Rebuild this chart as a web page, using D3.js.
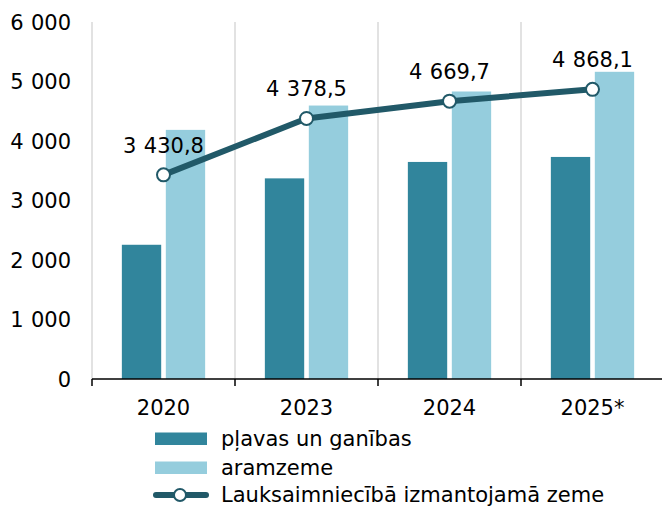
<!DOCTYPE html>
<html><head><meta charset="utf-8">
<script src="https://cdn.jsdelivr.net/npm/d3@7"></script>
<style>
html,body{margin:0;padding:0;background:#fff;}
svg{display:block;font-family:"DejaVu Sans",Verdana,sans-serif;}
.num{word-spacing:0.7px;}
</style></head>
<body>
<script>
const categories = ["2020", "2023", "2024", "2025*"];
const seriesNames = ["pļavas un ganības", "aramzeme"];
const meadows = [2256, 3372, 3648, 3732];
const arable = [4187, 4596, 4832, 5163];
const totalName = "Lauksaimniecībā izmantojamā zeme";
const total = [3430.8, 4378.5, 4669.7, 4868.1];
const yTicks = [0, 1000, 2000, 3000, 4000, 5000, 6000];

const W = 662, H = 506;
const FS = 21;
const colors = ["#31859c", "#95cddd"];
const lineColor = "#215968";

const svg = d3.select("body").append("svg").attr("width", W).attr("height", H);

const x0 = d3.scaleBand().domain(categories).range([92, 664]);
const x1 = d3.scaleBand().domain(seriesNames).range([29.85, 113.15]).paddingInner(0.105);
const y = d3.scaleLinear().domain([0, 6000]).range([379, 22]);

const fmtTick = v => d3.format(",")(v).replace(/,/g, " ");
const fmtVal = v => d3.format(",.1f")(v).replace(/,/g, " ").replace(".", ",");

// vertical gridlines at category boundaries
const bounds = categories.map(c => x0(c));
svg.append("g").selectAll("line").data(bounds).join("line")
  .attr("x1", d => d).attr("x2", d => d)
  .attr("y1", y(6000)).attr("y2", y(0))
  .attr("stroke", "#d9d9d9").attr("stroke-width", 1.5);

// bars
const data = categories.map((c, i) => ({c, vals: [meadows[i], arable[i]]}));
const g = svg.append("g");
data.forEach(d => {
  d.vals.forEach((v, j) => {
    g.append("rect")
      .attr("x", x0(d.c) + x1(seriesNames[j]))
      .attr("width", x1.bandwidth())
      .attr("y", y(v))
      .attr("height", y(0) - y(v))
      .attr("fill", colors[j]);
  });
});

// y axis labels
const yAxis = d3.axisLeft(y).tickValues(yTicks).tickFormat(fmtTick).tickSize(0).tickPadding(0);
const ya = svg.append("g").attr("transform", "translate(71,0)").call(yAxis);
ya.select(".domain").remove();
ya.selectAll("text").attr("class", "num").attr("font-size", FS).attr("fill", "#000")
  .attr("font-family", "DejaVu Sans, Verdana, sans-serif").attr("dy", "0.35em").attr("x", 0);

// x axis
const xa = svg.append("g").attr("transform", `translate(0,${y(0)})`);
xa.append("line").attr("x1", 92).attr("x2", W).attr("y1", 0).attr("y2", 0)
  .attr("stroke", "#000").attr("stroke-width", 1.5);
xa.selectAll("line.tick").data(bounds).join("line").attr("class", "tick")
  .attr("x1", d => d).attr("x2", d => d).attr("y1", 0).attr("y2", 7)
  .attr("stroke", "#000").attr("stroke-width", 1.5);
xa.selectAll("text").data(categories).join("text")
  .attr("x", d => x0(d) + x0.bandwidth() / 2)
  .attr("y", 36)
  .attr("text-anchor", "middle")
  .attr("font-size", FS).attr("fill", "#000")
  .text(d => d);

// total line
const cx = c => x0(c) + x0.bandwidth() / 2;
const line = d3.line().x((d, i) => cx(categories[i])).y(d => y(d));
svg.append("path").datum(total).attr("d", line)
  .attr("fill", "none").attr("stroke", lineColor).attr("stroke-width", 6)
  .attr("stroke-linejoin", "round");
svg.append("g").selectAll("circle").data(total).join("circle")
  .attr("cx", (d, i) => cx(categories[i])).attr("cy", d => y(d)).attr("r", 6.5)
  .attr("fill", "#fff").attr("stroke", lineColor).attr("stroke-width", 2);
svg.append("g").selectAll("text").data(total).join("text")
  .attr("class", "num")
  .attr("x", (d, i) => cx(categories[i])).attr("y", d => y(d) - 22)
  .attr("text-anchor", "middle").attr("font-size", FS).attr("fill", "#000")
  .text(d => fmtVal(d));

// legend
const leg = svg.append("g");
const rows = [
  {name: seriesNames[0], type: "rect", color: colors[0], cy: 439, base: 446},
  {name: seriesNames[1], type: "rect", color: colors[1], cy: 468, base: 475},
  {name: totalName, type: "line", color: lineColor, cy: 495, base: 502}
];
rows.forEach(r => {
  if (r.type === "rect") {
    leg.append("rect").attr("x", 155).attr("y", r.cy - 6.5).attr("width", 52).attr("height", 12.5)
      .attr("fill", r.color);
  } else {
    leg.append("line").attr("x1", 156).attr("x2", 206).attr("y1", r.cy).attr("y2", r.cy)
      .attr("stroke", r.color).attr("stroke-width", 6).attr("stroke-linecap", "round");
    leg.append("circle").attr("cx", 180).attr("cy", r.cy).attr("r", 6)
      .attr("fill", "#fff").attr("stroke", r.color).attr("stroke-width", 2);
  }
  leg.append("text").attr("x", 221).attr("y", r.base)
    .attr("font-size", FS).attr("fill", "#000").text(r.name);
});
</script>
</body></html>
